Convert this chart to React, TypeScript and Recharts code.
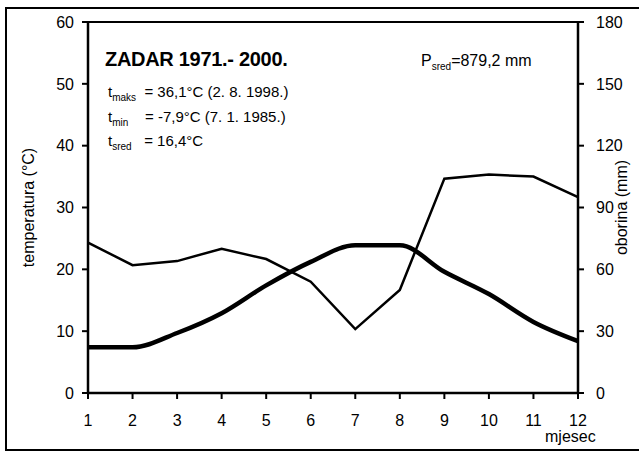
import { ComposedChart, Line, XAxis, YAxis, ReferenceLine } from "recharts";

const months = [1, 2, 3, 4, 5, 6, 7, 8, 9, 10, 11, 12];
const temperature = [7.4, 7.4, 9.7, 12.9, 17.4, 21.2, 23.9, 23.9, 19.6, 16.0, 11.5, 8.4];
const precipitation = [73, 62, 64, 70, 65, 54, 31, 50, 104, 106, 105, 95];
const tempTicks = [0, 10, 20, 30, 40, 50, 60];
const precTicks = [0, 30, 60, 90, 120, 150, 180];

const data = months.map((m, i) => ({
  month: m,
  temp: temperature[i],
  prec: precipitation[i],
}));

const font = "'Liberation Sans Narrow', 'Liberation Sans', Arial, sans-serif";
const tickStyle = { fill: "#000", fontSize: 16, fontFamily: font };
const subStyle = { fontSize: 10, lineHeight: 0, verticalAlign: "-4px" };

export default function App() {
  return (
    <div style={{ position: "absolute", left: 0, top: 0, width: 639, height: 455, background: "#fff" }}>
      <div
        style={{
          position: "absolute",
          left: 5,
          top: 7,
          width: 640,
          height: 444,
          border: "2px solid #000",
          boxSizing: "border-box",
        }}
      />
      <ComposedChart
        width={639}
        height={455}
        data={data}
        margin={{ top: 22, right: 0, left: 0, bottom: 0 }}
        style={{ position: "absolute", left: 0, top: 0 }}
      >
        <XAxis
          dataKey="month"
          type="number"
          domain={[1, 12]}
          ticks={months}
          height={62}
          tick={tickStyle}
          tickSize={6}
          tickMargin={16}
          axisLine={{ stroke: "#000", strokeWidth: 2.5 }}
          tickLine={{ stroke: "#000", strokeWidth: 2 }}
        />
        <YAxis
          yAxisId="t"
          domain={[0, 60]}
          ticks={tempTicks}
          width={88}
          tick={tickStyle}
          tickSize={6}
          tickMargin={8}
          axisLine={{ stroke: "#000", strokeWidth: 2.5 }}
          tickLine={{ stroke: "#000", strokeWidth: 2 }}
          label={{
            value: "temperatura (°C)",
            angle: -90,
            position: "insideLeft",
            offset: 28,
            style: { fill: "#000", fontSize: 16, fontFamily: font, textAnchor: "middle" },
          }}
        />
        <YAxis
          yAxisId="p"
          orientation="right"
          domain={[0, 180]}
          ticks={precTicks}
          width={61}
          tick={tickStyle}
          tickSize={6}
          tickMargin={12}
          axisLine={{ stroke: "#000", strokeWidth: 2.5 }}
          tickLine={{ stroke: "#000", strokeWidth: 2 }}
          label={{
            value: "oborina (mm)",
            angle: -90,
            position: "insideRight",
            offset: 18,
            style: { fill: "#000", fontSize: 16, fontFamily: font, textAnchor: "middle" },
          }}
        />
        <ReferenceLine yAxisId="t" y={60} stroke="#000" strokeWidth={2} />
        <Line
          yAxisId="p"
          dataKey="prec"
          type="linear"
          stroke="#000"
          strokeWidth={2.5}
          dot={false}
          isAnimationActive={false}
        />
        <Line
          yAxisId="t"
          dataKey="temp"
          type="monotone"
          stroke="#000"
          strokeWidth={4.5}
          dot={false}
          isAnimationActive={false}
        />
      </ComposedChart>
      <div style={{ position: "absolute", left: 105, top: 48, fontFamily: font, fontSize: 20, fontWeight: "bold", color: "#000", whiteSpace: "nowrap", letterSpacing: -0.3 }}>
        ZADAR 1971.- 2000.
      </div>
      <div style={{ position: "absolute", left: 108, top: 80, fontFamily: font, fontSize: 15, color: "#000", lineHeight: "24.5px", whiteSpace: "nowrap" }}>
        <div>t<sub style={subStyle}>maks</sub>&nbsp; = 36,1°C (2. 8. 1998.)</div>
        <div>t<sub style={subStyle}>min</sub>&nbsp;&nbsp;&nbsp; = -7,9°C (7. 1. 1985.)</div>
        <div>t<sub style={subStyle}>sred</sub>&nbsp;&nbsp; = 16,4°C</div>
      </div>
      <div style={{ position: "absolute", left: 421, top: 52, fontFamily: font, fontSize: 16, color: "#000", whiteSpace: "nowrap" }}>
        P<sub style={subStyle}>sred</sub>=879,2 mm
      </div>
      <div style={{ position: "absolute", left: 545, top: 428, fontFamily: font, fontSize: 16, color: "#000", whiteSpace: "nowrap" }}>
        mjesec
      </div>
    </div>
  );
}
